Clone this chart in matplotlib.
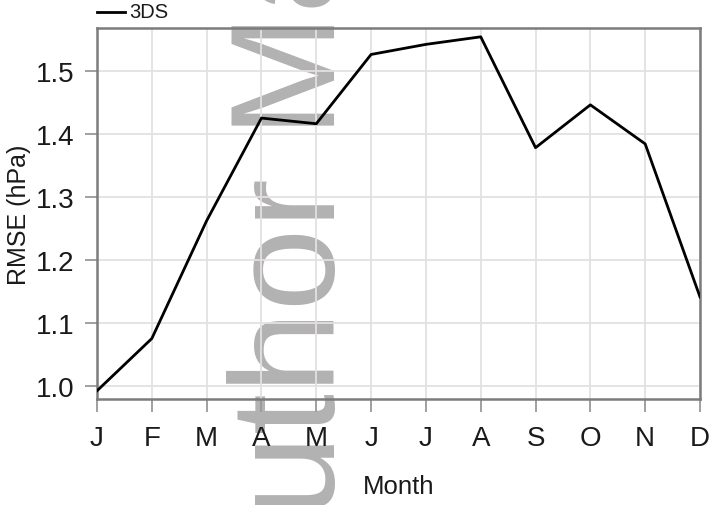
import matplotlib
matplotlib.use("Agg")
import matplotlib.pyplot as plt
from matplotlib.lines import Line2D

plt.rcParams["font.family"] = ["Liberation Sans", "DejaVu Sans"]

months = ["J", "F", "M", "A", "M", "J", "J", "A", "S", "O", "N", "D"]
rmse_3ds = [0.992, 1.075, 1.262, 1.425, 1.416, 1.526, 1.542, 1.554,
            1.378, 1.446, 1.384, 1.141]
yticks = [1.0, 1.1, 1.2, 1.3, 1.4, 1.5]

W, H = 717, 506
fig = plt.figure(figsize=(W / 100, H / 100), dpi=100)
ax = fig.add_axes([97 / W, 1 - 400 / H, 603 / W, 371 / H])
ax.set_facecolor("none")

x = list(range(len(months)))
ax.plot(x, rmse_3ds, color="black", lw=2.0, zorder=3)

ax.set_xlim(0, 11)
ax.set_ylim(0.979, 1.568)
ax.set_xticks(x)
ax.set_xticklabels(months)
ax.set_yticks(yticks)
ax.set_yticklabels([f"{v:.1f}" for v in yticks])
ax.grid(True, color="#e4e0e0", lw=1.3)
ax.set_axisbelow(True)
for s in ax.spines.values():
    s.set_color("#7c7c7c")
    s.set_linewidth(1.8)
ax.tick_params(axis="both", colors="#999999", length=9, width=1.3,
               labelsize=20, labelcolor="#1a1a1a")
ax.tick_params(axis="x", pad=10)
ax.tick_params(axis="y", pad=7)
ax.set_xlabel("Month", fontsize=18.5, color="#1a1a1a", labelpad=16)
ax.set_ylabel("RMSE (hPa)", fontsize=18, color="#1a1a1a", labelpad=4)

# legend entry sits above the plot frame
fig.add_artist(Line2D([97 / W, 125 / W], [1 - 13 / H, 1 - 13 / H],
                      color="black", lw=2.0))
fig.text(129 / W, 1 - 13 / H, "3DS", fontsize=14.5, va="center", ha="left",
         color="#1a1a1a")

# watermark behind the axes content, running bottom to top
fig.text(335 / W, 1 - 616 / H, "Author Manuscript", rotation=90,
         rotation_mode="anchor", ha="left", va="baseline", fontsize=107,
         color="#b2b2b2", zorder=-1)

fig.savefig("out.png", dpi=100)
